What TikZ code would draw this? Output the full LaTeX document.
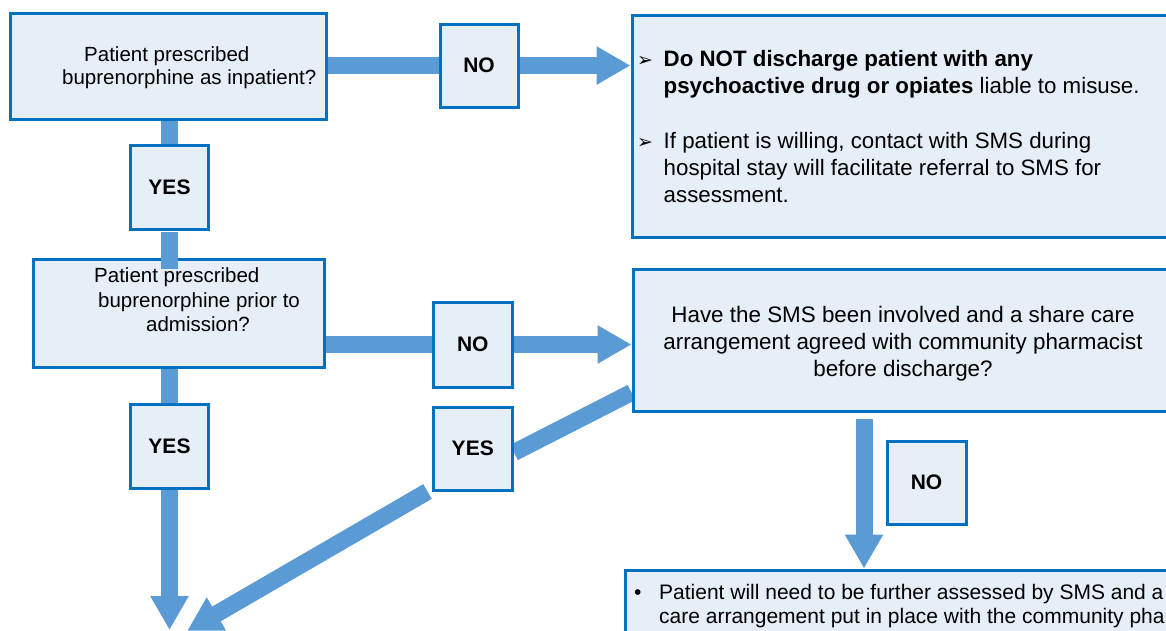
\documentclass[tikz,border=0pt]{standalone}
\usepackage{fontspec}
\setmainfont{Liberation Sans}
\newfontfamily\dejavu{DejaVu Sans}
\usetikzlibrary{arrows.meta,backgrounds}
\definecolor{boxfill}{HTML}{E6EEF7}
\definecolor{boxline}{HTML}{0070C0}
\definecolor{arr}{HTML}{5B9BD5}
\begin{document}
\begin{tikzpicture}[x=1pt,y=-1pt,
  box/.style={draw=boxline, fill=boxfill, line width=3pt, rectangle, inner sep=0pt},
  lbl/.style={box, font=\fontsize{21}{24}\selectfont\bfseries},
  conn/.style={draw=arr, line width=17pt},
  tipped/.style={-{Triangle[length=34pt,width=36pt]}},
  txt/.style={inner sep=0pt, align=left}]
\useasboundingbox (0,0) rectangle (1166,630);
\clip (0,0) rectangle (1166,630);

% boxes
\node[box, minimum width=316pt, minimum height=106pt] (A) at (168,66) {};
\node[lbl, minimum width=78pt, minimum height=83pt] (NO1) at (479,65.5) {NO};
\node[lbl, minimum width=78pt, minimum height=84pt] (YES1) at (169.5,187) {YES};
\node[box, minimum width=291pt, minimum height=108pt] (C) at (178.5,313) {};
\node[lbl, minimum width=79.5pt, minimum height=85pt] (NO2) at (472.75,344.5) {NO};
\node[lbl, minimum width=78.5pt, minimum height=84pt] (YES2) at (169.5,446) {YES};
\node[lbl, minimum width=79.5pt, minimum height=83pt] (YES3) at (472.75,448.5) {YES};
\node[lbl, minimum width=79pt, minimum height=83pt] (NO3) at (926.5,482.5) {NO};
\node[box, minimum width=588pt, minimum height=222pt] (B) at (926,126) {};
\node[box, minimum width=587pt, minimum height=142pt] (D) at (926.5,340) {};
\node[box, minimum width=595pt, minimum height=130pt] (F) at (922.5,635) {};

% texts
\node[txt, anchor=north west, font=\fontsize{20.5}{23}\selectfont] (At) at (62,46.5)
  {\hspace*{22pt}Patient prescribed\\buprenorphine as inpatient?};
\node[txt, anchor=north west, font=\fontsize{20.5}{24.5}\selectfont] (Ct) at (94,267.5)
  {Patient prescribed\\\hspace*{4pt}buprenorphine prior to\\\hspace*{52pt}admission?};
\node[inner sep=0pt, align=center, anchor=north, font=\fontsize{22.4}{27}\selectfont] (Dt) at (903,306)
  {Have the SMS been involved and a share care\\arrangement agreed with community pharmacist\\before discharge?};
\node[inner sep=0pt, anchor=north west, font=\fontsize{22.3}{27}\selectfont] (Bt) at (637,47)
  {\begin{tabular}{@{}l@{}l@{}}
   \makebox[26.5pt][l]{\dejavu\fontsize{19}{19}\selectfont ➢} & \textbf{Do NOT discharge patient with any}\\
   & \textbf{psychoactive drug or opiates} liable to misuse.\\[28pt]
   \makebox[26.5pt][l]{\dejavu\fontsize{19}{19}\selectfont ➢} & If patient is willing, contact with SMS during\\
   & hospital stay will facilitate referral to SMS for\\
   & assessment.
   \end{tabular}};
\node[inner sep=0pt, anchor=north west, font=\fontsize{21}{24}\selectfont] (Ft) at (634,582)
  {\begin{tabular}{@{}l@{}l@{}}
   \makebox[25pt][l]{•} & Patient will need to be further assessed by SMS and a share\\
   & care arrangement put in place with the community pharmacist
   \end{tabular}};

% connector end points
\coordinate (n3s) at (864,419);
\coordinate (y2tip) at (169.5,630);
\coordinate (y3tip) at (187,631);

\begin{pgfonlayer}{background}
\fill[white] (0,0) rectangle (1166,630);
\draw[conn] (NO1.west -| A.east) -- (NO1.west);
\draw[conn, tipped] (NO1.east) -- (NO1.east -| B.west);
\draw[conn] (YES1.north |- A.south) -- (YES1.north);
\draw[conn] (NO2.west -| C.east) -- (NO2.west);
\draw[conn, tipped] (NO2.east) -- (NO2.east -| D.west);
\draw[conn] (YES2.north |- C.south) -- (YES2.north);
\draw[conn, tipped] (YES2.south) -- (y2tip);
\draw[conn] ([yshift=20pt]D.south west) -- ([yshift=-4pt]YES3.east);
\draw[conn, tipped] ([xshift=-4pt]YES3.south west) -- (y3tip);
\draw[conn, tipped] (n3s) -- (n3s |- F.north);
\end{pgfonlayer}
\draw[conn] ([yshift=-1.5pt]YES1.south) -- ([yshift=-11pt]YES1.south |- C.north);
\end{tikzpicture}
\end{document}
